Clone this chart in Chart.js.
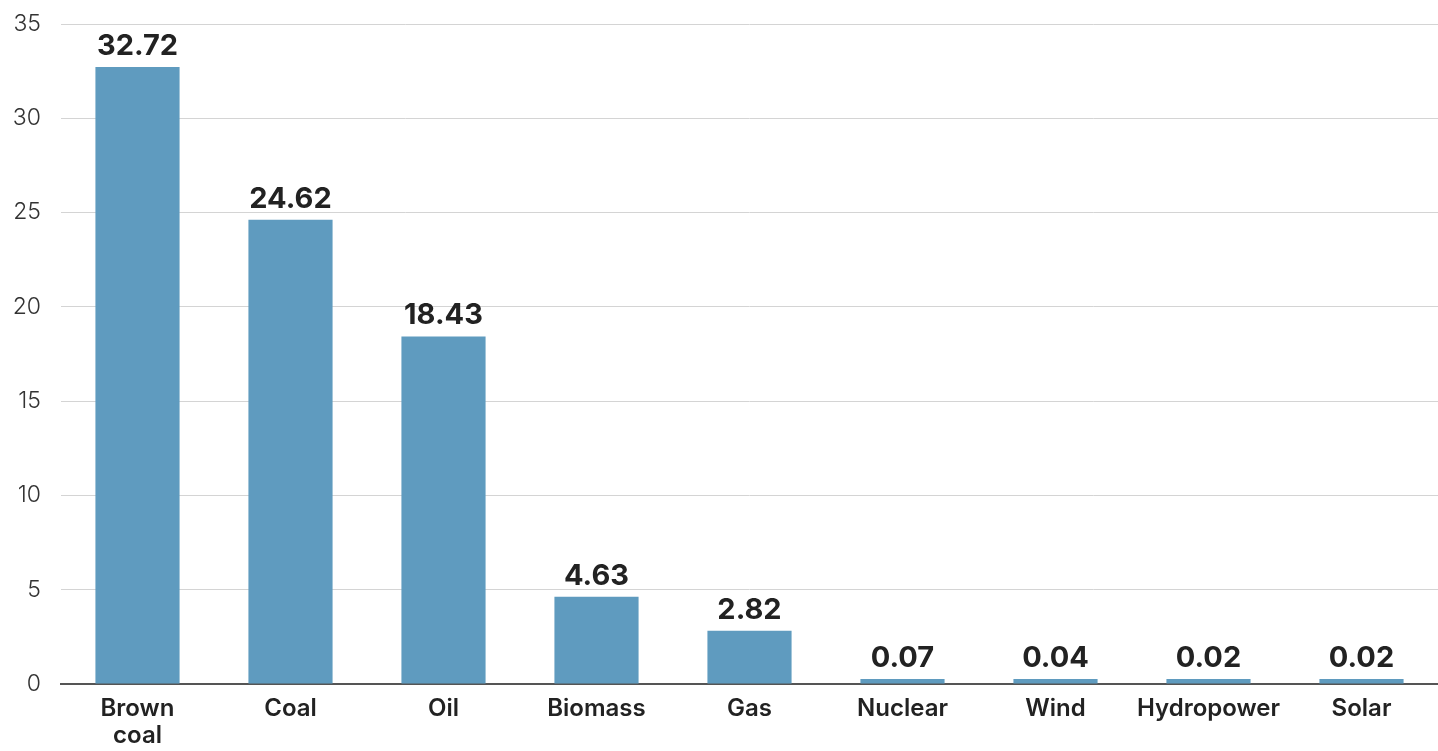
<!DOCTYPE html>
<html>
<head>
<meta charset="utf-8">
<script src="https://cdn.jsdelivr.net/npm/chart.js@4/dist/chart.umd.min.js"></script>
<style>
  html, body { margin: 0; padding: 0; background: #fff; }
  #wrap { width: 1438px; height: 751px; position: relative; }
</style>
</head>
<body>
<div id="wrap"><canvas id="barChart"></canvas></div>
<script>
// Dữ liệu
const categories = [['Brown', 'coal'], 'Coal', 'Oil', 'Biomass', 'Gas', 'Nuclear', 'Wind', 'Hydropower', 'Solar'];
const values = [32.72, 24.62, 18.43, 4.63, 2.82, 0.07, 0.04, 0.02, 0.02];
const yTicks = [0, 5, 10, 15, 20, 25, 30, 35];

// Plugin nhỏ để vẽ số trên đầu mỗi cột
const valueLabels = {
    id: 'valueLabels',
    afterDatasetsDraw(chart) {
        const ctx = chart.ctx;
        const meta = chart.getDatasetMeta(0);
        ctx.save();
        ctx.font = 'bold 29px Inter, "Noto Sans", sans-serif';
        ctx.fillStyle = '#222';
        ctx.textAlign = 'center';
        ctx.textBaseline = 'alphabetic';
        meta.data.forEach((bar, i) => {
            ctx.fillText(values[i].toFixed(2), bar.x, bar.y - 12);
        });
        ctx.restore();
    }
};

document.addEventListener('DOMContentLoaded', function() {
    const ctx = document.getElementById('barChart').getContext('2d');
    new Chart(ctx, {
        type: 'bar',
        data: {
            labels: categories,
            datasets: [{
                data: values,
                backgroundColor: '#5f9bbf',
                barPercentage: 0.55,
                categoryPercentage: 1,
                minBarLength: 5
            }]
        },
        options: {
            responsive: true,
            maintainAspectRatio: false,
            animation: false,
            layout: { padding: { top: 24, right: 0, left: 0, bottom: 0 } },
            plugins: {
                legend: { display: false },
                tooltip: { enabled: false }
            },
            scales: {
                y: {
                    min: 0,
                    max: 35,
                    afterBuildTicks: (axis) => { axis.ticks = yTicks.map(v => ({ value: v })); },
                    afterFit: (axis) => {
                        axis.width = 61;
                        axis.paddingTop = 0;
                        axis.paddingBottom = 0;
                    },
                    grid: { color: '#d4d4d4', lineWidth: 1, drawTicks: false },
                    border: { display: false },
                    ticks: {
                        padding: 20,
                        color: '#333',
                        font: { family: 'Inter, "Noto Sans", sans-serif', size: 23, weight: 300 }
                    }
                },
                x: {
                    afterFit: (axis) => { axis.height = 67; },
                    grid: { display: false, drawTicks: false },
                    border: { display: true, color: '#555', width: 2 },
                    ticks: {
                        padding: 12,
                        color: '#222',
                        maxRotation: 0,
                        autoSkip: false,
                        font: { family: 'Inter, "Noto Sans", sans-serif', size: 24, weight: 600, lineHeight: 1.1 }
                    }
                }
            }
        },
        plugins: [valueLabels]
    });
});
</script>
</body>
</html>
